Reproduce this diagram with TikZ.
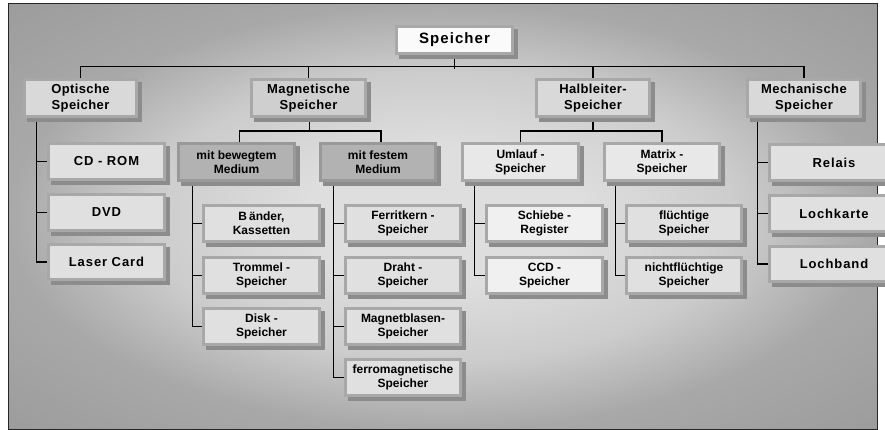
\documentclass[tikz,border=0pt]{standalone}
\usepackage{fontspec}
\setmainfont{Liberation Sans}
\newfontfamily\widefont[LetterSpace=7]{Liberation Sans}
\newfontfamily\midfont[LetterSpace=3]{Liberation Sans}
\usetikzlibrary{shadows}
\pgfdeclarelayer{back}
\pgfdeclarelayer{mid}
\pgfsetlayers{back,mid,main}
\definecolor{bgA}{gray}{0.87}
\definecolor{bgB}{gray}{0.80}
\definecolor{bgC}{gray}{0.66}
\definecolor{bgD}{gray}{0.60}
\pgfdeclareradialshading{bgshade}{\pgfpoint{0bp}{0bp}}{color(0bp)=(bgA); color(8bp)=(bgA); color(17bp)=(bgB); color(25bp)=(bgC); color(38bp)=(bgD); color(50bp)=(bgD)}
\definecolor{frameC}{gray}{0.66}
\definecolor{shadowC}{gray}{0.55}
\definecolor{topfill}{gray}{0.98}
\definecolor{lvlfill}{gray}{0.85}
\definecolor{magfill}{gray}{0.81}
\definecolor{darkfill}{gray}{0.70}
\definecolor{darkframe}{gray}{0.60}
\definecolor{lightfill}{gray}{0.91}
\definecolor{whitefill}{gray}{0.94}
\definecolor{leaffill}{gray}{0.88}
\tikzset{
  boxbase/.style={rectangle, inner sep=0pt, align=center, line width=3pt,
    draw=frameC, text=black,
    general shadow={fill=shadowC, draw=shadowC, line width=3pt, shadow xshift=3.5pt, shadow yshift=-4pt}},
  topbox/.style={boxbase, fill=topfill, font=\widefont\bfseries\fontsize{15}{17}\selectfont},
  lvlbox/.style={boxbase, fill=lvlfill, font=\midfont\bfseries\fontsize{13}{15.5}\selectfont},
  magbox/.style={lvlbox, fill=magfill},
  darkbox/.style={boxbase, fill=darkfill, draw=darkframe, font=\bfseries\fontsize{12}{14}\selectfont},
  lightbox/.style={boxbase, fill=lightfill, font=\bfseries\fontsize{12}{14}\selectfont},
  smallbox/.style={boxbase, fill=leaffill, font=\bfseries\fontsize{12}{14}\selectfont},
  whitebox/.style={smallbox, fill=whitefill},
  bigleaf/.style={boxbase, fill=leaffill, font=\widefont\bfseries\fontsize{13}{15}\selectfont},
  conn/.style={draw=black, line width=1.6pt}
}
\newcommand\bx[7]{\node[#1, minimum width={(#5-#3-3)*1pt}, minimum height={(#6-#4-3)*1pt}] (#2) at ({(#3+#5)/2},{(#4+#6)/2}) {#7};}
\begin{document}
\begin{tikzpicture}[x=1pt,y=-1pt]
\useasboundingbox (0,0) rectangle (885,430);
\begin{pgfonlayer}{back}
\fill[white] (0,0) rectangle (885,430);
\path[shading=bgshade] (8,4) rectangle (877,429);
\draw[gray!30!black, line width=1pt] (8,4) rectangle (877,429);
\end{pgfonlayer}
% top
\bx{topbox}{sp}{395}{25}{514}{55}{Speicher}
% level 1
\bx{lvlbox}{opt}{23}{78}{138}{118}{Optische\\Speicher}
\bx{magbox}{mag}{250}{78}{367}{118}{Magnetische\\Speicher}
\bx{lvlbox}{hal}{535}{78}{651}{118}{Halbleiter-\\Speicher}
\bx{lvlbox}{mech}{746}{78}{862}{118}{Mechanische\\Speicher}
% level 2
\bx{darkbox}{bew}{177}{142}{296}{182}{mit bewegtem\\Medium}
\bx{darkbox}{fes}{319}{142}{437}{182}{mit festem\\Medium}
\bx{lightbox}{uml}{461}{142}{580}{182}{Umlauf -\\Speicher}
\bx{lightbox}{mat}{603}{142}{721}{182}{Matrix -\\Speicher}
% optical leaves
\bx{bigleaf}{cd}{47}{142}{166}{181}{CD - ROM}
\bx{bigleaf}{dvd}{47}{193}{166}{232}{DVD}
\bx{bigleaf}{laser}{47}{243}{166}{281}{Laser Card}
% mechanical leaves
\bx{bigleaf}{rel}{768}{143}{900}{182}{Relais}
\bx{bigleaf}{lk}{768}{194}{900}{233}{Lochkarte}
\bx{bigleaf}{lb}{768}{245}{900}{283}{Lochband}
% magnetic leaves
\bx{smallbox}{baen}{202}{204}{321}{243}{B\,änder,\\Kassetten}
\bx{smallbox}{tromm}{202}{256}{321}{295}{Trommel -\\Speicher}
\bx{smallbox}{disk}{202}{307}{321}{346}{Disk -\\Speicher}
\bx{smallbox}{ferr}{344}{204}{462}{243}{Ferritkern -\\Speicher}
\bx{smallbox}{draht}{344}{256}{462}{295}{Draht -\\Speicher}
\bx{smallbox}{mblas}{344}{307}{462}{346}{Magnetblasen-\\Speicher}
\bx{smallbox}{ferro}{344}{358}{462}{397}{ferromagnetische\\Speicher}
% semiconductor leaves
\bx{whitebox}{schieb}{485}{204}{604}{243}{Schiebe -\\Register}
\bx{whitebox}{ccd}{485}{256}{604}{295}{CCD -\\Speicher}
\bx{smallbox}{flue}{625}{204}{743}{243}{flüchtige\\Speicher}
\bx{smallbox}{nfl}{625}{256}{743}{295}{nichtflüchtige\\Speicher}
\begin{pgfonlayer}{mid}
% top bar
\draw[conn] (sp.south) -- ++(0,14);
\draw[conn] (opt.north) -- ++(0,-11.5) -| (mech.north);
\draw[conn] (mag.north) -- ++(0,-11.5);
\draw[conn] (hal.north) -- ++(0,-11.5);
% magnetic bar
\draw[conn] ([xshift=1pt]mag.south) -- ++(0,12);
\draw[conn] ([xshift=3pt]bew.north) -- ++(0,-11) -| ([xshift=3pt]fes.north);
% semiconductor bar
\draw[conn] (hal.south) -- ++(0,12);
\draw[conn] (uml.north) -- ++(0,-11) -| (mat.north);
% optical
\coordinate (optv) at ([xshift=13.5pt]opt.south west);
\draw[conn] (optv) |- (laser.west);
\foreach \n in {cd,dvd} \draw[conn] (optv |- \n.west) -- (\n.west);
% mechanical
\coordinate (mechv) at ([xshift=11.5pt]mech.south west);
\draw[conn] (mechv) |- (lb.west);
\foreach \n in {rel,lk} \draw[conn] (mechv |- \n.west) -- (\n.west);
% moving medium
\coordinate (bewv) at ([xshift=15.5pt]bew.south west);
\draw[conn] (bewv) |- (disk.west);
\foreach \n in {baen,tromm} \draw[conn] (bewv |- \n.west) -- (\n.west);
% fixed medium
\coordinate (fesv) at ([xshift=14.5pt]fes.south west);
\draw[conn] (fesv) |- (ferro.west);
\foreach \n in {ferr,draht,mblas} \draw[conn] (fesv |- \n.west) -- (\n.west);
% circulating
\coordinate (umlv) at ([xshift=13.5pt]uml.south west);
\draw[conn] (umlv) |- (ccd.west);
\draw[conn] (umlv |- schieb.west) -- (schieb.west);
% matrix
\coordinate (matv) at ([xshift=12.5pt]mat.south west);
\draw[conn] (matv) |- (nfl.west);
\draw[conn] (matv |- flue.west) -- (flue.west);
\end{pgfonlayer}
\end{tikzpicture}
\end{document}
